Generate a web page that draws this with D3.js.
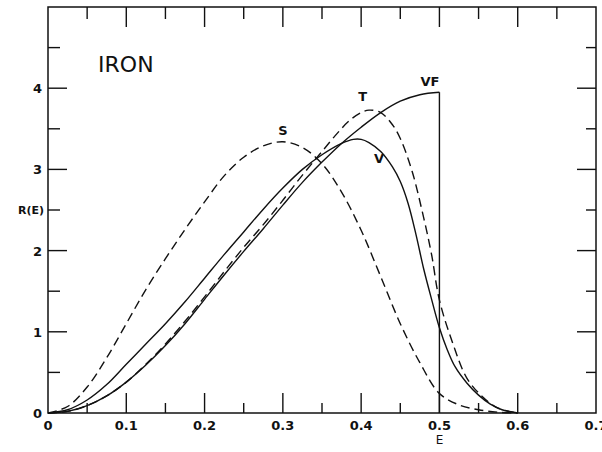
<!DOCTYPE html>
<html>
<head>
<meta charset="utf-8">
<script src="https://cdn.jsdelivr.net/npm/d3@7"></script>
<style>
  body { margin: 0; background: #fff; }
  svg { display: block; }
  text { font-family: "DejaVu Sans", sans-serif; fill: #111; }
</style>
</head>
<body>
<svg id="chart" width="602" height="452"></svg>
<script>
// curve S (dashed)
const sE = [0, 0.025, 0.05, 0.075, 0.1, 0.125, 0.15, 0.175, 0.2, 0.225, 0.25, 0.275, 0.3,
  0.325, 0.35, 0.375, 0.4, 0.425, 0.45, 0.475, 0.5, 0.525, 0.55, 0.575, 0.6]
const sR = [0, 0.08, 0.32, 0.68, 1.1, 1.52, 1.9, 2.26, 2.6, 2.92, 3.15, 3.29, 3.34,
  3.27, 3.07, 2.72, 2.25, 1.68, 1.1, 0.62, 0.24, 0.1, 0.04, 0.01, 0]

// curve T (dashed)
const tE = [0, 0.025, 0.05, 0.075, 0.1, 0.125, 0.15, 0.175, 0.2, 0.225, 0.25, 0.275, 0.3,
  0.325, 0.35, 0.37, 0.385, 0.4, 0.41, 0.425, 0.44, 0.45, 0.465, 0.48, 0.49, 0.5, 0.517,
  0.535, 0.555, 0.575, 0.6]
const tR = [0, 0.02, 0.09, 0.21, 0.38, 0.6, 0.85, 1.13, 1.43, 1.74, 2.04, 2.32, 2.62,
  2.93, 3.22, 3.45, 3.6, 3.7, 3.73, 3.7, 3.55, 3.38, 2.98, 2.4, 1.95, 1.39, 0.86,
  0.43, 0.2, 0.06, 0]

// curve V (solid)
const vE = [0, 0.025, 0.05, 0.075, 0.1, 0.125, 0.15, 0.175, 0.2, 0.225, 0.25, 0.275, 0.3,
  0.325, 0.35, 0.375, 0.39, 0.4, 0.41, 0.425, 0.44, 0.45, 0.46, 0.47, 0.48, 0.49, 0.5,
  0.51, 0.52, 0.535, 0.55, 0.565, 0.58, 0.6]
const vR = [0, 0.04, 0.16, 0.35, 0.6, 0.85, 1.1, 1.37, 1.66, 1.95, 2.23, 2.51, 2.77,
  3.0, 3.18, 3.32, 3.37, 3.37, 3.33, 3.22, 3.03, 2.85, 2.58, 2.2, 1.77, 1.4, 1.05,
  0.78, 0.57, 0.37, 0.22, 0.11, 0.04, 0]

// curve VF (solid), cut off at E = 0.5
const vfE = [0, 0.025, 0.05, 0.075, 0.1, 0.125, 0.15, 0.175, 0.2, 0.225, 0.25, 0.275, 0.3,
  0.325, 0.35, 0.375, 0.4, 0.425, 0.45, 0.475, 0.5]
const vfR = [0, 0.02, 0.09, 0.21, 0.38, 0.59, 0.83, 1.1, 1.4, 1.7, 1.99, 2.27, 2.56,
  2.84, 3.09, 3.32, 3.52, 3.7, 3.84, 3.92, 3.95]

const xTickLabels = ['0', '0.1', '0.2', '0.3', '0.4', '0.5', '0.6', '0.7']
const yTickLabels = ['0', '1', '2', '3', '4']

const margin = {left: 48, right: 6, top: 7, bottom: 39}
const width = 602 - margin.left - margin.right
const height = 452 - margin.top - margin.bottom

const svg = d3.select('#chart')
const g = svg.append('g')
  .attr('transform', `translate(${margin.left},${margin.top})`)

const x = d3.scaleLinear().domain([0, 0.7]).range([0, width])
const y = d3.scaleLinear().domain([0, 5]).range([height, 0])

/**
 * frame + tick marks on all four sides
 */
function drawFrame() {
  g.append('rect')
    .attr('x', 0).attr('y', 0)
    .attr('width', width).attr('height', height)
    .attr('fill', 'none')
    .attr('stroke', '#111')
    .attr('stroke-width', 1.5)

  const xt = d3.range(1, 14).map(i => i * 0.05)
  const yt = d3.range(1, 10).map(i => i * 0.5)
  const isMajor = (v, step) => Math.abs(v / step - Math.round(v / step)) < 1e-6

  // bottom, pointing up
  g.append('g').selectAll('line').data(xt).enter().append('line')
    .attr('x1', d => x(d)).attr('x2', d => x(d))
    .attr('y1', height).attr('y2', d => height - (isMajor(d, 0.1) ? 20 : 10))
  // top, pointing down
  g.append('g').selectAll('line').data(xt).enter().append('line')
    .attr('x1', d => x(d)).attr('x2', d => x(d))
    .attr('y1', 0).attr('y2', d => isMajor(d, 0.1) ? 20 : 12)
  // left, pointing right
  g.append('g').selectAll('line').data(yt).enter().append('line')
    .attr('x1', 0).attr('x2', d => isMajor(d, 1) ? 19 : 12)
    .attr('y1', d => y(d)).attr('y2', d => y(d))
  // right, pointing left
  g.append('g').selectAll('line').data(yt).enter().append('line')
    .attr('x1', width).attr('x2', d => width - (isMajor(d, 1) ? 19 : 10))
    .attr('y1', d => y(d)).attr('y2', d => y(d))

  g.selectAll('line').attr('stroke', '#111').attr('stroke-width', 1.4)
}

function drawLabels() {
  g.append('g').selectAll('text').data(xTickLabels).enter().append('text')
    .attr('x', (d, i) => x(i * 0.1))
    .attr('y', height + 17)
    .attr('text-anchor', 'middle')
    .attr('font-size', 13)
    .attr('font-weight', 'bold')
    .text(d => d)

  g.append('g').selectAll('text').data(yTickLabels).enter().append('text')
    .attr('x', -6)
    .attr('y', (d, i) => y(i) + 5)
    .attr('text-anchor', 'end')
    .attr('font-size', 13)
    .attr('font-weight', 'bold')
    .text(d => d)

  g.append('text')
    .attr('x', -4).attr('y', y(2.5) + 4)
    .attr('text-anchor', 'end')
    .attr('font-size', 11)
    .attr('font-weight', 'bold')
    .text('R(E)')

  g.append('text')
    .attr('x', x(0.5)).attr('y', height + 31)
    .attr('text-anchor', 'middle')
    .attr('font-size', 12)
    .text('E')

  g.append('text')
    .attr('x', x(0.064)).attr('y', y(4.3) + 8)
    .attr('font-size', 22)
    .text('IRON')
}

/**
 * one curve from two arrays
 */
function drawCurve(es, rs, dashed) {
  const pts = es.map((e, i) => [e, rs[i]])
  g.append('path')
    .datum(pts)
    .attr('fill', 'none')
    .attr('stroke', '#111')
    .attr('stroke-width', 1.4)
    .attr('stroke-dasharray', dashed ? '9,5' : null)
    .attr('d', d3.line().x(d => x(d[0])).y(d => y(Math.max(0, d[1])))
      .curve(d3.curveCatmullRom.alpha(0.5)))
}

drawFrame()
drawCurve(sE, sR, true)
drawCurve(tE, tR, true)
drawCurve(vE, vR, false)
drawCurve(vfE, vfR, false)

// VF drops straight down at its cut-off
const vfEnd = vfE.length - 1
g.append('line')
  .attr('x1', x(vfE[vfEnd])).attr('x2', x(vfE[vfEnd]))
  .attr('y1', y(vfR[vfEnd])).attr('y2', y(0))
  .attr('stroke', '#111').attr('stroke-width', 1.4)

drawLabels()

// curve names
const curveNames = [
  {name: 'S', e: 0.3, r: 3.42},
  {name: 'T', e: 0.402, r: 3.84},
  {name: 'VF', e: 0.488, r: 4.03},
  {name: 'V', e: 0.423, r: 3.08}
]
g.append('g').selectAll('text').data(curveNames).enter().append('text')
  .attr('x', d => x(d.e))
  .attr('y', d => y(d.r))
  .attr('text-anchor', 'middle')
  .attr('font-size', 13)
  .attr('font-weight', 'bold')
  .text(d => d.name)
</script>
</body>
</html>
